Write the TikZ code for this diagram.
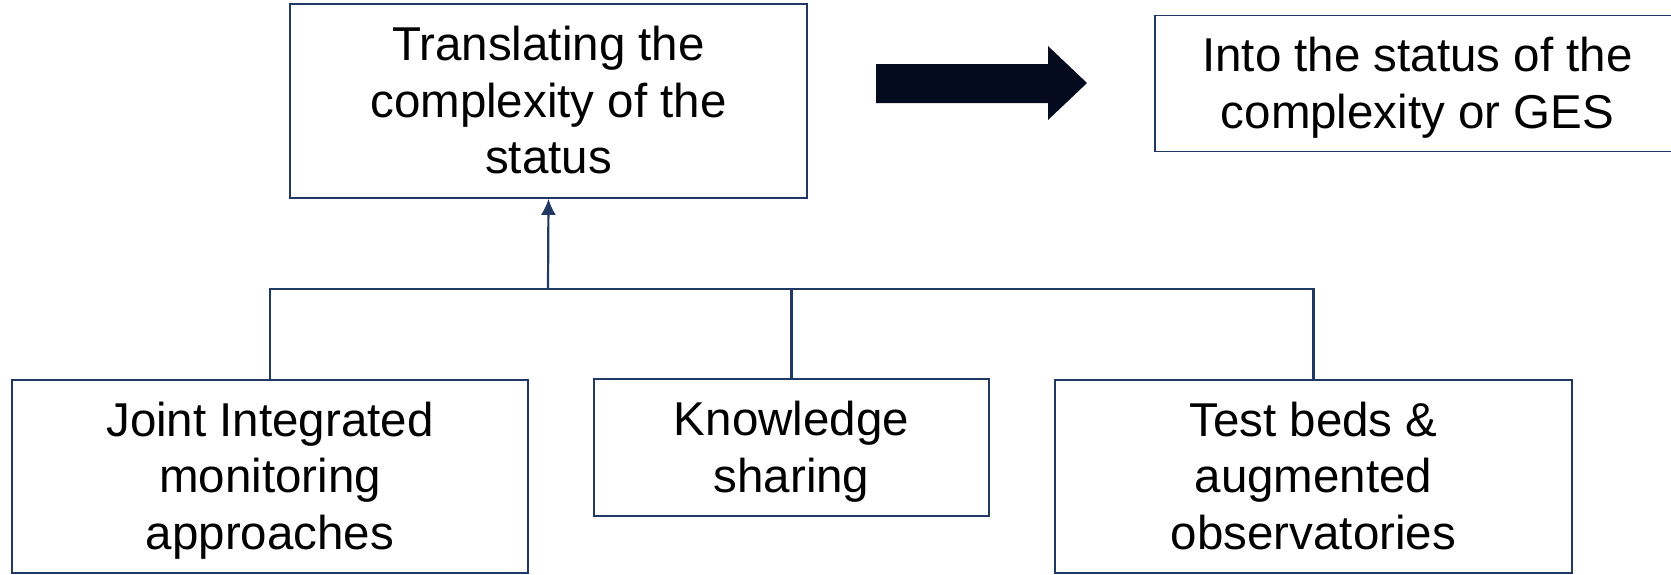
\documentclass[tikz,border=0pt]{standalone}
\usepackage{fontspec}
\setmainfont{Liberation Sans}
\usetikzlibrary{arrows.meta}
\definecolor{navy}{HTML}{1F3864}
\definecolor{inkblue}{HTML}{050B1F}
% struts giving every text block the full ascent and descent of the font
\newcommand\topstrut{\rule{0pt}{0.905em}}
\newcommand\botstrut{\rule[-0.212em]{0pt}{0.212em}}
\begin{document}
\begin{tikzpicture}[x=1pt,y=-1pt,
  box/.style={draw=navy, line width=1.6pt, fill=white, align=center, inner sep=0pt,
    font=\fontsize{47.5}{56.5}\selectfont},
  link/.style={draw=navy, line width=2.2pt}]
\useasboundingbox (0,0) rectangle (1671,574);
% upper row
\node[box, minimum width=517pt, minimum height=194pt] (trans) at (548.5,101)
  {\topstrut Translating the\\complexity of the\\status\botstrut};
\node[box, minimum width=525pt, minimum height=136pt] (into) at (1417.5,83.5)
  {\topstrut Into the status of the\\complexity or GES\botstrut};
% lower row
\node[box, minimum width=516pt, minimum height=193pt] (joint) at (270,476.5)
  {\topstrut Joint Integrated\\monitoring\\approaches\botstrut};
\node[box, minimum width=395pt, minimum height=137pt] (know) at (791.5,447.5)
  {\topstrut Knowledge\\sharing\botstrut};
\node[box, minimum width=517pt, minimum height=193pt] (test) at (1313.5,476.5)
  {\topstrut Test beds \&\\augmented\\observatories\botstrut};
% block arrow between the two upper boxes
\fill[inkblue] (876,64) -- (1048,64) -- (1048,46) -- (1087,83) -- (1048,120)
  -- (1048,103) -- (876,103) -- cycle;
% tree of connectors
\coordinate (bar) at (548,289);
\draw[link] (joint.north) |- (bar) -| (test.north);
\draw[link] (know.north) -- (know.north |- bar);
\draw[link, -{Latex[length=16pt,width=15pt]}] (bar) -- (trans.south);
\end{tikzpicture}
\end{document}
